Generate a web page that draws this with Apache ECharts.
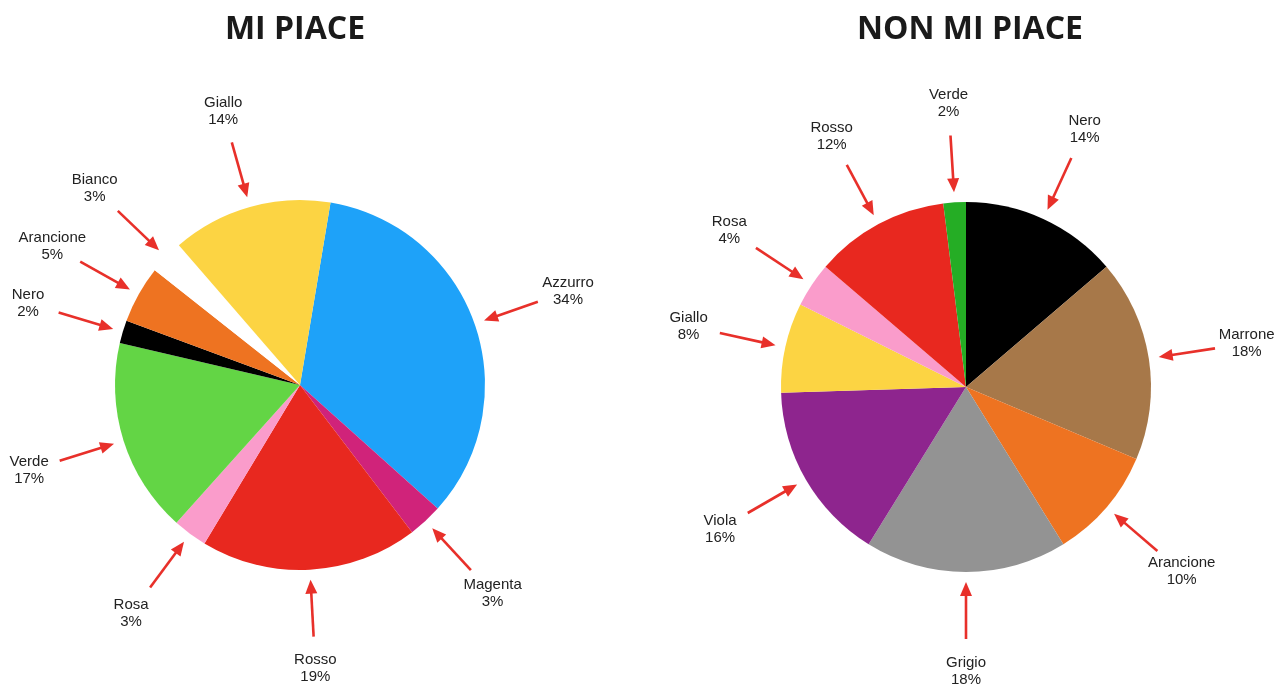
<!DOCTYPE html>
<html><head><meta charset="utf-8">
<script src="https://cdn.jsdelivr.net/npm/echarts@6/dist/echarts.min.js"></script>
<style>html,body{margin:0;padding:0;background:#fff}#c{width:1281px;height:688px}</style>
</head><body><div id="c"></div>
<script>
const titles = ['MI PIACE', 'NON MI PIACE'];

const likeNames  = ['Azzurro', 'Magenta', 'Rosso', 'Rosa', 'Verde', 'Nero', 'Arancione', 'Bianco', 'Giallo'];
const likeValues = [34, 3, 19, 3, 17, 2, 5, 3, 14];
const likeColors = ['#1ea2f9', '#d0237a', '#e8281f', '#fa9ccb', '#63d545', '#000000', '#ee7321', '#ffffff', '#fcd443'];

const dislikeNames  = ['Nero', 'Marrone', 'Arancione', 'Grigio', 'Viola', 'Giallo', 'Rosa', 'Rosso', 'Verde'];
const dislikeValues = [14, 18, 10, 18, 16, 8, 4, 12, 2];
const dislikeColors = ['#000000', '#a77849', '#ee7321', '#939393', '#8e258e', '#fcd443', '#fa9ccb', '#e8281f', '#25ad25'];

const pies = [
  { title: titles[0], names: likeNames, values: likeValues, colors: likeColors, center: [300, 385], radius: 185, offsetDeg: 9.5, titleX: 295 },
  { title: titles[1], names: dislikeNames, values: dislikeValues, colors: dislikeColors, center: [966, 387], radius: 185, offsetDeg: 0, titleX: 970 }
];

const ARROW = '#e8302a';

function pieSeries(p) {
  return {
    type: 'pie',
    center: p.center,
    radius: p.radius,
    startAngle: 90 - p.offsetDeg,
    clockwise: true,
    silent: true,
    label: { show: false },
    labelLine: { show: false },
    emphasis: { disabled: true },
    itemStyle: { borderWidth: 0 },
    animation: false,
    data: p.names.map((n, i) => ({ name: n, value: p.values[i], itemStyle: { color: p.colors[i] } }))
  };
}

function arrowSeries(p) {
  const total = p.values.reduce((a, b) => a + b, 0);
  const cum = [];
  let acc = 0;
  p.values.forEach(v => { cum.push(acc); acc += v; });
  return {
    type: 'custom',
    coordinateSystem: 'none',
    silent: true,
    animation: false,
    z: 5,
    data: p.values.map((v, i) => [i, v]),
    renderItem(params, api) {
      const i = params.dataIndex;
      const midDeg = p.offsetDeg + (cum[i] + p.values[i] / 2) / total * 360;
      const a = midDeg * Math.PI / 180;
      const ux = Math.sin(a), uy = -Math.cos(a);
      const px = -uy, py = ux;
      const cx = p.center[0], cy = p.center[1], r = p.radius;
      const pt = d => [cx + ux * d, cy + uy * d];
      const tip = pt(r + 10), base = pt(r + 24), lineEnd = pt(r + 20), tail = pt(r + 67), lab = pt(r + 99);
      const hw = 6;
      return {
        type: 'group',
        children: [
          { type: 'line', shape: { x1: tail[0], y1: tail[1], x2: lineEnd[0], y2: lineEnd[1] },
            style: { stroke: ARROW, lineWidth: 2.6 } },
          { type: 'polygon', shape: { points: [tip, [base[0] + px * hw, base[1] + py * hw], [base[0] - px * hw, base[1] - py * hw]] },
            style: { fill: ARROW } },
          { type: 'text',
            style: { text: p.names[i] + '\n' + p.values[i] + '%', x: lab[0], y: lab[1],
              align: 'center', verticalAlign: 'middle', textAlign: 'center', textVerticalAlign: 'middle',
              fontSize: 15, fontFamily: '"Liberation Sans", Arial, sans-serif', lineHeight: 17, fill: '#222' } }
        ]
      };
    }
  };
}

const chart = echarts.init(document.getElementById('c'), null, { renderer: 'canvas' });
chart.setOption({
  backgroundColor: '#ffffff',
  animation: false,
  title: pies.map(p => ({
    text: p.title, left: p.titleX, top: 14, textAlign: 'center', padding: 0,
    textStyle: { fontFamily: '"Open Sans", sans-serif', fontWeight: 'bold', fontSize: 32, color: '#1a1a1a' }
  })),
  series: [pieSeries(pies[0]), pieSeries(pies[1]), arrowSeries(pies[0]), arrowSeries(pies[1])]
});
</script>
</body></html>
